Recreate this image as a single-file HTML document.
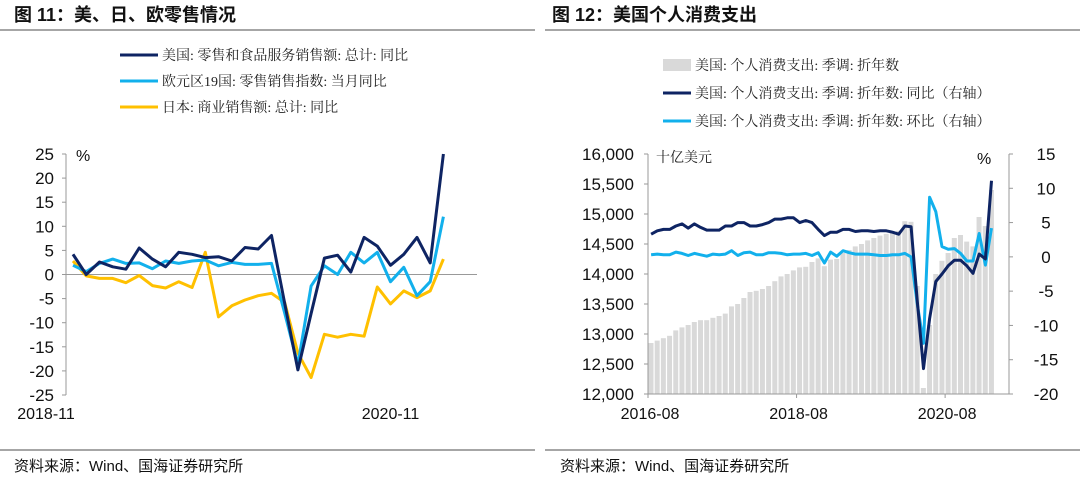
<!DOCTYPE html>
<html><head><meta charset="utf-8">
<style>
body{margin:0;background:#fff;width:1080px;height:478px;overflow:hidden;font-family:"Liberation Sans","Noto Sans CJK SC",sans-serif;}
svg text{font-family:"Liberation Sans","Noto Sans CJK SC",sans-serif;}
.leg{font-family:"Liberation Serif","Noto Serif CJK SC",serif;font-size:14px;fill:#222;}
</style></head><body>
<svg id="s" width="1080" height="478" xmlns="http://www.w3.org/2000/svg">
<text x="14" y="21" font-size="18" font-weight="bold" fill="#111">图 11：美、日、欧零售情况</text>
<text x="552" y="21" font-size="18" font-weight="bold" fill="#111">图 12：美国个人消费支出</text>
<line x1="0" y1="30" x2="535" y2="30" stroke="#888" stroke-width="1.5"/>
<line x1="545" y1="30" x2="1080" y2="30" stroke="#888" stroke-width="1.5"/>
<line x1="0" y1="450" x2="535" y2="450" stroke="#888" stroke-width="1.5"/>
<line x1="545" y1="450" x2="1080" y2="450" stroke="#888" stroke-width="1.5"/>
<text x="14" y="471" font-size="15" fill="#111">资料来源：Wind、国海证券研究所</text>
<text x="560" y="471" font-size="15" fill="#111">资料来源：Wind、国海证券研究所</text>
<g id="L"></g>
<g id="R"></g>
</svg>
<script>
const NS="http://www.w3.org/2000/svg";
const leftTicks=[25,20,15,10,5,0,-5,-10,-15,-20,-25];
const leftXLabels=["2018-11","2020-11"];
const leftXLabelIdx=[0,24];
const usRetail=[4.2,0,2.6,1.6,1.1,5.5,3.2,1.6,4.6,4.2,3.5,3.7,2.8,5.6,5.3,8.1,-6,-19.8,-8.1,3.4,4.0,0.5,7.7,5.9,1.9,4.2,7.7,2.4,25];
const euRetail=[1.9,0.6,2.3,3.2,2.3,2.4,1.2,2.8,2.3,2.8,3.0,1.8,2.5,2.1,2.1,2.3,-8,-18.7,-2.4,1.8,0,4.6,2.4,4.6,-1.5,1.5,-4.4,-1.5,12];
const jpRetail=[2.8,-0.3,-0.8,-0.8,-1.7,-0.2,-2.3,-2.8,-1.5,-2.7,4.6,-8.8,-6.5,-5.3,-4.4,-3.9,-5.8,-16.3,-21.4,-12.4,-13,-12.4,-12.8,-2.6,-6.1,-3.4,-4.8,-3.4,3.2];

const pceLevel=[12850,12890,12930,12970,13060,13110,13150,13200,13230,13230,13270,13300,13340,13460,13500,13600,13700,13720,13750,13800,13880,13960,14000,14060,14110,14120,14200,14260,14130,14240,14250,14350,14400,14460,14500,14560,14600,14640,14670,14700,14720,14880,14870,13800,12100,13150,14000,14220,14350,14600,14650,14540,14460,14950,14800,15400];
const pceYoY=[3.3,3.8,4.0,4.0,4.5,4.8,4.2,4.8,4.3,3.9,3.9,3.9,4.5,4.5,5.0,5.0,4.5,4.5,4.7,5.0,5.5,5.5,5.7,5.7,5.0,5.3,5.0,4.0,3.1,3.6,3.6,4.0,4.0,3.7,3.8,3.8,3.7,3.8,3.8,3.6,3.3,4.5,4.4,-6.5,-16.3,-9,-3.6,-2.5,-1.3,-0.5,-0.5,-1.3,-2.4,0.4,-0.3,11.1];
const pceMoM=[0.3,0.4,0.3,0.3,0.7,0.5,0.2,0.5,0.3,0.1,0.4,0.3,0.4,0.9,0.2,0.6,0.7,0.3,0.3,0.6,0.6,0.5,0.3,0.4,0.4,0.5,0.2,0.6,-0.9,0.7,0.1,0.9,0.6,0.4,0.4,0.4,0.3,0.2,0.2,0.3,0.3,0.5,0.0,-6.9,-12.6,8.7,6.6,1.5,1.1,1.2,0.5,-0.6,-0.6,3.4,-1.2,4.2];
const rightLTicks=[16000,15500,15000,14500,14000,13500,13000,12500,12000];
const rightRTicks=[15,10,5,0,-5,-10,-15,-20];
const rightXLabels=["2016-08","2018-08","2020-08"];
const rightXLabelIdx=[0,24,48];

function el(tag,attrs,parent,txt){const e=document.createElementNS(NS,tag);for(const k in attrs)e.setAttribute(k,attrs[k]);if(txt!==undefined)e.textContent=txt;parent.appendChild(e);return e;}
const L=document.getElementById('L'),R=document.getElementById('R');

const lx=i=>73+i*13.23, ly=v=>154+(25-v)*241/50;
let e;
e=el('line',{x1:66,y1:154,x2:66,y2:395,stroke:'#999'},L);


e=el('line',{x1:66,y1:ly(0),x2:477,y2:ly(0),stroke:'#999'},L);


leftTicks.forEach(t=>{
 const y=ly(t);
 el('line',{x1:62,y1:y,x2:66,y2:y,stroke:'#999'},L);
 e=el('text',{x:54,y:y+6,'text-anchor':'end','font-size':17,fill:'#111'},L,String(t));
 
 
});
e=el('text',{x:76,y:161,'font-size':16,fill:'#111'},L,'%');


leftXLabels.forEach((s,k)=>{
 e=el('text',{x:lx(leftXLabelIdx[k]),y:419,'font-size':16,'text-anchor':'middle',fill:'#111'},L,s);
 if(k===0)e.setAttribute('x',46);
 
 
});
function line(g,arr,xf,yf,color,name){
 const p=arr.map((v,i)=>xf(i).toFixed(1)+','+yf(v).toFixed(1)).join(' ');
 const e=el('polyline',{points:p,fill:'none',stroke:color,'stroke-width':3,'stroke-linejoin':'round'},g);
 
 
}
line(L,jpRetail,lx,ly,'#ffc000','japan-retail-line');
line(L,euRetail,lx,ly,'#12b0ec','euro-retail-line');
line(L,usRetail,lx,ly,'#0e2463','us-retail-line');
const lleg=[['#0e2463','美国: 零售和食品服务销售额: 总计: 同比'],['#12b0ec','欧元区19国: 零售销售指数: 当月同比'],['#ffc000','日本: 商业销售额: 总计: 同比']];
lleg.forEach((d,k)=>{
 const y=55+k*26;
 e=el('line',{x1:120,y1:y,x2:158,y2:y,stroke:d[0],'stroke-width':3},L);
 
 
 e=el('text',{x:162,y:y+5,class:'leg'},L,d[1]);
 
 
});

const bw=6.19, rx=i=>648+(i+0.5)*bw, ryl=v=>154+(16000-v)*240/4000, ryr=v=>154+(15-v)*240/35;
pceLevel.forEach((v,i)=>{
 const e=el('rect',{x:648+i*bw+0.5,y:ryl(v),width:bw-1.2,height:394-ryl(v),fill:'#d9d9d9'},R);
 
 
});
e=el('line',{x1:648,y1:154,x2:648,y2:394,stroke:'#999'},R);


e=el('line',{x1:1009,y1:154,x2:1009,y2:394,stroke:'#999'},R);


e=el('line',{x1:648,y1:394,x2:1009,y2:394,stroke:'#999'},R);


rightLTicks.forEach(t=>{
 const y=ryl(t);
 el('line',{x1:644,y1:y,x2:648,y2:y,stroke:'#999'},R);
 e=el('text',{x:634,y:y+6,'text-anchor':'end','font-size':17,fill:'#111'},R,t.toLocaleString('en-US'));
 
 
});
rightRTicks.forEach(t=>{
 const y=ryr(t);
 el('line',{x1:1009,y1:y,x2:1013,y2:y,stroke:'#999'},R);
 e=el('text',{x:1046,y:y+6,'text-anchor':'middle','font-size':17,fill:'#111'},R,String(t));
 
 
});
rightXLabels.forEach((s,k)=>{
 const x=648+rightXLabelIdx[k]*bw;
 el('line',{x1:x,y1:394,x2:x,y2:398,stroke:'#999'},R);
 e=el('text',{x:x+2,y:419,'text-anchor':'middle','font-size':16,fill:'#111'},R,s);
 
 
});
e=el('text',{x:656,y:162,'font-size':14,class:'leg'},R,'十亿美元');


e=el('text',{x:977,y:164,'font-size':16,fill:'#111'},R,'%');


line(R,pceMoM,rx,ryr,'#12b0ec','pce-mom-line');
line(R,pceYoY,rx,ryr,'#0e2463','pce-yoy-line');
const rleg=[['#d9d9d9','美国: 个人消费支出: 季调: 折年数',1],['#0e2463','美国: 个人消费支出: 季调: 折年数: 同比（右轴）',0],['#12b0ec','美国: 个人消费支出: 季调: 折年数: 环比（右轴）',0]];
rleg.forEach((d,k)=>{
 const y=65+k*28;
 if(d[2]) e=el('rect',{x:663,y:y-6,width:28,height:12,fill:d[0]},R);
 else e=el('line',{x1:663,y1:y,x2:691,y2:y,stroke:d[0],'stroke-width':3},R);
 
 
 e=el('text',{x:695,y:y+5,class:'leg'},R,d[1]);
 
 
});
</script>
</body></html>
